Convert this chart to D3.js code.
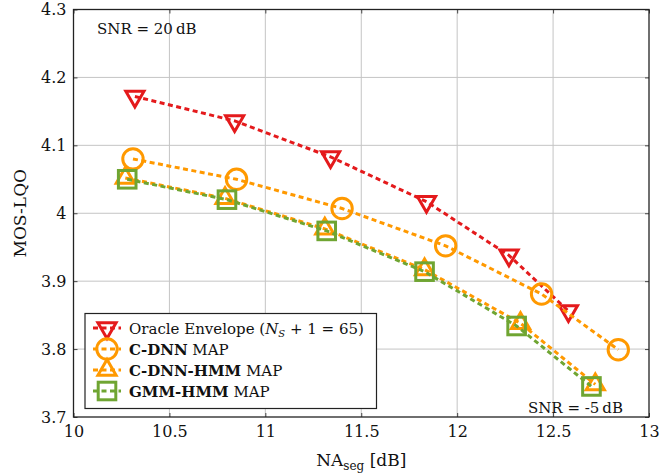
<!DOCTYPE html>
<html>
<head>
<meta charset="utf-8">
<script src="https://cdn.jsdelivr.net/npm/d3@7"></script>
<style>
  html, body { margin: 0; padding: 0; background: #fff; }
  svg { display: block; }
  svg text { font-family: "DejaVu Serif", "Liberation Serif", "Noto Serif", "Times New Roman", Tinos, serif; fill: #111; }
</style>
</head>
<body>
<script>
// NA_seg [dB] and MOS-LQO for each method, SNR from 20 dB (left) down to -5 dB (right)
const oracleX = [10.32, 10.84, 11.34, 11.84, 12.27, 12.58];
const oracleY = [4.172, 4.136, 4.083, 4.017, 3.938, 3.856];
const cdnnX = [10.31, 10.85, 11.40, 11.94, 12.44, 12.84];
const cdnnY = [4.080, 4.050, 4.007, 3.952, 3.881, 3.799];
const cdnnHmmX = [10.27, 10.79, 11.31, 11.83, 12.33, 12.72];
const cdnnHmmY = [4.052, 4.022, 3.977, 3.917, 3.838, 3.748];
const gmmHmmX = [10.28, 10.80, 11.32, 11.83, 12.31, 12.70];
const gmmHmmY = [4.050, 4.020, 3.974, 3.914, 3.834, 3.745];

const xTicks = [10, 10.5, 11, 11.5, 12, 12.5, 13];
const yTicks = [3.7, 3.8, 3.9, 4, 4.1, 4.2, 4.3];

const W = 661, H = 473;
const m = { left: 73.5, right: 649, top: 9.5, bottom: 417 };
const SERIF = '"DejaVu Serif", "Liberation Serif", "Noto Serif", "Times New Roman", Tinos, serif';

const svg = d3.select("body").append("svg").attr("width", W).attr("height", H)
  .attr("font-family", SERIF);

const x = d3.scaleLinear().domain([10, 13]).range([m.left, m.right]);
const y = d3.scaleLinear().domain([3.7, 4.3]).range([m.bottom, m.top]);

// grid
const grid = svg.append("g");
grid.selectAll(".gx").data(xTicks.slice(1, -1)).join("line")
  .attr("x1", d => x(d)).attr("x2", d => x(d))
  .attr("y1", m.top).attr("y2", m.bottom)
  .attr("stroke", "#c4c4c4").attr("stroke-width", 1);
grid.selectAll(".gy").data(yTicks.slice(1, -1)).join("line")
  .attr("y1", d => y(d)).attr("y2", d => y(d))
  .attr("x1", m.left).attr("x2", m.right)
  .attr("stroke", "#c4c4c4").attr("stroke-width", 1);

// axes with inward ticks
const fmt = d => d3.format("")(d);
const xAxis = d3.axisBottom(x).tickValues(xTicks).tickSize(-4).tickPadding(9).tickFormat(fmt);
const yAxis = d3.axisLeft(y).tickValues(yTicks).tickSize(-4).tickPadding(7).tickFormat(d => d3.format(".1f")(d).replace(/^4\.0$/, "4"));
const gx = svg.append("g").attr("transform", `translate(0,${m.bottom})`).call(xAxis);
const gy = svg.append("g").attr("transform", `translate(${m.left},0)`).call(yAxis);
const gxTop = svg.append("g").attr("transform", `translate(0,${m.top})`)
  .call(d3.axisTop(x).tickValues(xTicks).tickSize(-4).tickFormat(""));
const gyRight = svg.append("g").attr("transform", `translate(${m.right},0)`)
  .call(d3.axisRight(y).tickValues(yTicks).tickSize(-4).tickFormat(""));
[gx, gy, gxTop, gyRight].forEach(g => {
  g.attr("font-family", SERIF);
  g.select(".domain").remove();
  g.selectAll(".tick line").attr("stroke", "#444").attr("stroke-width", 1);
  g.selectAll("text").attr("font-size", 16).attr("fill", "#111");
});
svg.append("rect").attr("x", m.left).attr("y", m.top)
  .attr("width", m.right - m.left).attr("height", m.bottom - m.top)
  .attr("fill", "none").attr("stroke", "#222").attr("stroke-width", 1.3);

// axis labels
const xl = svg.append("text").attr("x", x(11.5)).attr("y", 466)
  .attr("text-anchor", "middle").attr("font-size", 17);
xl.append("tspan").text("NA");
xl.append("tspan").attr("font-size", 12).attr("dy", 4).text("seg");
xl.append("tspan").attr("dy", -4).text(" [dB]");
svg.append("text").attr("transform", `translate(26,${(m.top + m.bottom) / 2}) rotate(-90)`)
  .attr("text-anchor", "middle").attr("font-size", 17).text("MOS-LQO");

// annotations
svg.append("text").attr("x", 97).attr("y", 34).attr("font-size", 15).text("SNR = 20\u2009dB");
svg.append("text").attr("x", 623).attr("y", 413).attr("text-anchor", "end")
  .attr("font-size", 15).text("SNR = -5\u2009dB");

// marker shapes
const R = 10.5;
function marker(g, type, color) {
  if (type === "down") {
    const r = R;
    const pts = [[0, r], [-r * Math.sqrt(3) / 2, -r / 2], [r * Math.sqrt(3) / 2, -r / 2]];
    g.append("path").attr("d", "M" + pts.join("L") + "Z");
  } else if (type === "up") {
    const r = R;
    const pts = [[0, -r], [-r * Math.sqrt(3) / 2, r / 2], [r * Math.sqrt(3) / 2, r / 2]];
    g.append("path").attr("d", "M" + pts.join("L") + "Z");
  } else if (type === "circle") {
    g.append("circle").attr("r", 10.2);
  } else if (type === "square") {
    g.append("rect").attr("x", -8.8).attr("y", -8.8).attr("width", 17.6).attr("height", 17.6);
  }
  g.selectAll("*").attr("fill", "none").attr("stroke", color).attr("stroke-width", 3)
    .attr("stroke-linejoin", "miter");
}

const red = "#e41a1c", orange = "#ff9900", green = "#6fa532";
const series = [
  { xs: oracleX, ys: oracleY, color: red, mark: "down" },
  { xs: cdnnX, ys: cdnnY, color: orange, mark: "circle" },
  { xs: cdnnHmmX, ys: cdnnHmmY, color: orange, mark: "up" },
  { xs: gmmHmmX, ys: gmmHmmY, color: green, mark: "square" }
];

const line = d3.line().x(d => x(d[0])).y(d => y(d[1]));
series.forEach(s => {
  const pts = s.xs.map((v, i) => [v, s.ys[i]]);
  svg.append("path").datum(pts).attr("d", line)
    .attr("fill", "none").attr("stroke", s.color).attr("stroke-width", 3)
    .attr("stroke-dasharray", "5,3.5");
  pts.forEach(p => {
    const g = svg.append("g").attr("transform", `translate(${x(p[0])},${y(p[1])})`);
    marker(g, s.mark, s.color);
  });
});

// legend
const lg = svg.append("g");
lg.append("rect").attr("x", 85).attr("y", 313.5).attr("width", 291.5).attr("height", 95)
  .attr("fill", "#fff").attr("stroke", "#222").attr("stroke-width", 1.2);
const labels = [
  [{ t: "Oracle Envelope (" }, { t: "N", i: true }, { t: "S", i: true, sub: true }, { t: " + 1 = 65)", up: true }],
  [{ t: "C-DNN", b: true }, { t: " MAP" }],
  [{ t: "C-DNN-HMM", b: true }, { t: " MAP" }],
  [{ t: "GMM-HMM", b: true }, { t: " MAP" }]
];
series.forEach((s, i) => {
  const cy = 328 + i * 21;
  lg.append("line").attr("x1", 93).attr("x2", 121).attr("y1", cy).attr("y2", cy)
    .attr("stroke", s.color).attr("stroke-width", 3).attr("stroke-dasharray", "5,3.5");
  const g = lg.append("g").attr("transform", `translate(107,${cy})`);
  marker(g, s.mark, s.color);
  const t = lg.append("text").attr("x", 129).attr("y", cy + 5.5).attr("font-size", 15);
  labels[i].forEach(p => {
    const ts = t.append("tspan").text(p.t);
    if (p.b) ts.attr("font-weight", "bold");
    if (p.i) ts.attr("font-style", "italic");
    if (p.sub) ts.attr("font-size", 10).attr("dy", 3);
    if (p.up) ts.attr("dy", -3);
  });
});
</script>
</body>
</html>
